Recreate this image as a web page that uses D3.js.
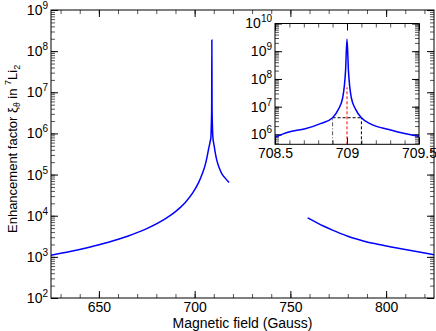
<!DOCTYPE html>
<html><head><meta charset="utf-8">
<script src="https://cdn.jsdelivr.net/npm/d3@7"></script>
<style>
body{margin:0;background:#fff}
svg{display:block}
text{font-family:"Liberation Sans",Arial,Helvetica,sans-serif;fill:#000}
</style>
</head><body>
<svg id="c" width="436" height="331"></svg>
<script>
// ---- data ----
const mainLeftB = [625,635,645,655,665,675,685,690,695,699,702,704,705.5,706.5,707.3,708,708.5,708.7,708.9,709,709.1,709.3,709.5,710.2,711.5,713,714.1,716,718];
const mainLeftV = [1.1e3,1.35e3,1.72e3,2.27e3,3.17e3,4.85e3,8.6e3,1.26e4,2.08e4,3.6e4,6.3e4,1.05e5,1.7e5,2.7e5,4.2e5,6e5,8e5,1.5e6,4e6,1.86e8,4e6,1.5e6,8.5e5,5e5,2.3e5,1.4e5,1.07e5,8.2e4,6.4e4];
const mainRightB = [759,763,767.2,772,776,780,784.6,790,795,802,810.7,819.4,825];
const mainRightV = [8.9e3,7.1e3,5.62e3,4.45e3,3.72e3,3.18e3,2.71e3,2.3e3,2.05e3,1.77e3,1.49e3,1.26e3,1.13e3];
const insetB = [708.5,708.59,708.71,708.82,708.9,708.94,708.97,708.99,709,709.01,709.03,709.06,709.1,709.17,709.29,709.4,709.5];
const insetV = [8e5,1.2e6,1.6e6,2.5e6,4e6,8e6,2.1e7,2e8,2.7e9,2e8,2.1e7,8e6,4e6,2.3e6,1.5e6,1.07e6,8.5e5];
const mainXTicks = [650,700,750,800];
const mainYTicks = [1e2,1e3,1e4,1e5,1e6,1e7,1e8,1e9];
const insetXTicks = [708.5,709,709.5];
const insetXLabels = ["708.5","709","709.5"];
const insetYTicks = [1e6,1e7,1e8,1e9,1e10];
const halfB = [708.9,709.1];
const halfLevel = 4e6;
const centerB = 709;
const centerTop = 5e7;
const xLabel = "Magnetic field (Gauss)";

// ---- drawing ----
const svg = d3.select("#c");
const FS = 14;

function expLabels(sel, supSize){
  sel.selectAll(".tick text").each(function(d){
    const t = d3.select(this);
    t.text("10");
    t.append("tspan").attr("dy","-0.6em").attr("font-size",supSize+"px").text(Math.round(Math.log10(d)));
  });
}

function panel(x, y, opts){
  const [x0,x1] = x.range(), [y0,y1] = y.range(); // y0 bottom, y1 top
  const g = svg.append("g");
  g.append("rect").attr("x",x0).attr("y",y1).attr("width",x1-x0).attr("height",y0-y1)
    .attr("fill","#fff").attr("stroke","none");
  const minorX = x.ticks(opts.minorXCount);
  const minorY = y.ticks();
  const axes = [
    [d3.axisBottom(x), `translate(0,${y0})`, minorX],
    [d3.axisTop(x), `translate(0,${y1})`, minorX],
    [d3.axisLeft(y), `translate(${x0},0)`, minorY],
    [d3.axisRight(y), `translate(${x1},0)`, minorY]
  ];
  axes.forEach(([ax,tr,minor])=>{
    g.append("g").attr("transform",tr)
      .call(ax.tickValues(minor).tickFormat("").tickSize(-4).tickSizeOuter(0))
      .call(s=>s.select(".domain").remove())
      .call(s=>s.selectAll("line").attr("stroke","#555"));
  });
  const bx = g.append("g").attr("transform",`translate(0,${y0})`)
    .call(d3.axisBottom(x).tickValues(opts.majorX).tickSize(-7).tickSizeOuter(0)
      .tickPadding(opts.padX).tickFormat((d,i)=>opts.xFmt(d,i)));
  bx.select(".domain").remove();
  bx.selectAll("text").attr("font-size",FS+"px").attr("font-family",null);
  g.append("g").attr("transform",`translate(0,${y1})`)
    .call(d3.axisTop(x).tickValues(opts.majorX).tickSize(-7).tickSizeOuter(0).tickFormat(""))
    .call(s=>s.select(".domain").remove());
  const ly = g.append("g").attr("transform",`translate(${x0},0)`)
    .call(d3.axisLeft(y).tickValues(opts.majorY).tickSize(-7).tickSizeOuter(0).tickPadding(3).tickFormat(d=>""+d));
  ly.select(".domain").remove();
  ly.selectAll("text").attr("font-size",FS+"px").attr("font-family",null);
  expLabels(ly, 10);
  g.append("g").attr("transform",`translate(${x1},0)`)
    .call(d3.axisRight(y).tickValues(opts.majorY).tickSize(-7).tickSizeOuter(0).tickFormat(""))
    .call(s=>s.select(".domain").remove());
  g.selectAll(".tick line").attr("stroke-width",1);
  return g;
}

// main panel
const x = d3.scaleLinear([625,825],[51,434]);
const y = d3.scaleLog([1e2,1e9],[298,10]);
panel(x, y, {minorXCount:20, majorX:mainXTicks, majorY:mainYTicks, padX:4, xFmt:d=>d});

const line = d3.line().x(d=>x(d[0])).y(d=>y(d[1])).curve(d3.curveMonotoneX);
svg.append("path").datum(d3.zip(mainLeftB, mainLeftV)).attr("d",line)
  .attr("fill","none").attr("stroke","#0000ff").attr("stroke-width",1.5);
svg.append("path").datum(d3.zip(mainRightB, mainRightV)).attr("d",line)
  .attr("fill","none").attr("stroke","#0000ff").attr("stroke-width",1.5);
svg.append("rect").attr("x",51).attr("y",10).attr("width",383).attr("height",288)
  .attr("fill","none").attr("stroke","#000").attr("stroke-width",1);

// axis titles
svg.append("text").attr("x",(x.range()[0]+x.range()[1])/2).attr("y",327.5)
  .attr("text-anchor","middle").attr("font-size",FS+"px").text(xLabel);
const yl = svg.append("text").attr("transform","translate(16.5,233) rotate(-90)")
  .attr("text-anchor","start").attr("font-size","13px");
yl.append("tspan").text("Enhancement factor ξ");
yl.append("tspan").attr("font-size","9px").attr("dy","3").text("ϑ");
yl.append("tspan").attr("dy","-3").text(" in ");
yl.append("tspan").attr("font-size","9px").attr("dy","-6").text("7");
yl.append("tspan").attr("dy","6").text("Li");
yl.append("tspan").attr("font-size","9px").attr("dy","3").text("2");

// inset
const xi = d3.scaleLinear([708.5,709.5],[275,419]);
const yi = d3.scaleLog([4.4e5,1e10],[144.3,23.5]);
panel(xi, yi, {minorXCount:10, majorX:insetXTicks, majorY:insetYTicks, padX:3.5, xFmt:(d,i)=>insetXLabels[i]});
const linei = d3.line().x(d=>xi(d[0])).y(d=>yi(d[1])).curve(d3.curveMonotoneX);
svg.append("line").attr("x1",xi(halfB[0])).attr("x2",xi(halfB[0])).attr("y1",yi.range()[0]).attr("y2",yi(halfLevel))
  .attr("stroke","#555").attr("stroke-dasharray","4,2,1,2").attr("stroke-width",1);
svg.append("line").attr("x1",xi(halfB[1])).attr("x2",xi(halfB[1])).attr("y1",yi.range()[0]).attr("y2",yi(halfLevel))
  .attr("stroke","#000").attr("stroke-dasharray","3,2").attr("stroke-width",1);
svg.append("line").attr("x1",xi(halfB[0])).attr("x2",xi(halfB[1])).attr("y1",yi(halfLevel)).attr("y2",yi(halfLevel))
  .attr("stroke","#000").attr("stroke-dasharray","3,2").attr("stroke-width",1);
svg.append("path").datum(d3.zip(insetB, insetV)).attr("d",linei)
  .attr("fill","none").attr("stroke","#0000ff").attr("stroke-width",1.5);
svg.append("line").attr("x1",xi(centerB)).attr("x2",xi(centerB)).attr("y1",yi.range()[0]).attr("y2",yi(centerTop))
  .attr("stroke","#ff0000").attr("stroke-dasharray","3,2").attr("stroke-width",1);
svg.append("rect").attr("x",275).attr("y",23.5).attr("width",144).attr("height",120.8)
  .attr("fill","none").attr("stroke","#000").attr("stroke-width",1);
</script>
</body></html>
